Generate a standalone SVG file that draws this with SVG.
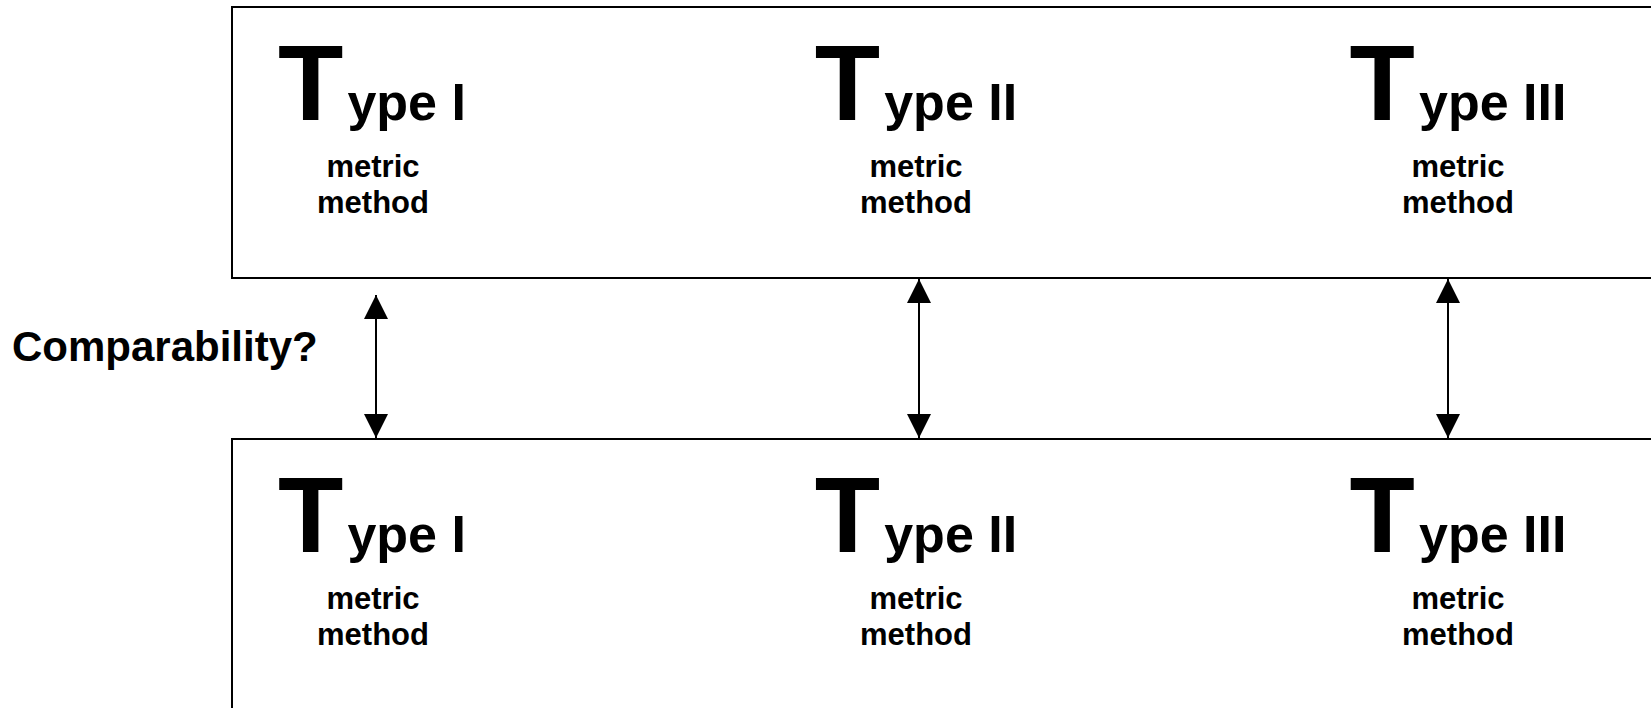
<svg xmlns="http://www.w3.org/2000/svg" width="1651" height="708" viewBox="0 0 1651 708">
<defs>
<style>
.box{fill:#fff;stroke:#000;stroke-width:2}
.t{font-family:"Liberation Sans",Arial,sans-serif;font-weight:bold;fill:#000;text-anchor:middle}
.big{font-size:107px}
.mid{font-size:52px}
.sm{font-size:31px}
.lbl{font-family:"Liberation Sans",Arial,sans-serif;font-weight:bold;font-size:42px;fill:#000}
.conn{stroke:#000;stroke-width:2;fill:none}
</style>
<marker id="ah" markerUnits="userSpaceOnUse" markerWidth="24" markerHeight="24" viewBox="0 0 22 22" refX="22" refY="11" orient="auto-start-reverse">
<path d="M0,0 L22,11 L0,22 Z" fill="#000"/>
</marker>
</defs>
<g id="top-box"><rect class="box" x="232" y="7" width="1440" height="271"/></g>
<g id="bottom-box"><rect class="box" x="232" y="439" width="1440" height="290"/></g>
<g id="top-type1">
<text class="t" x="372" y="120"><tspan class="big">T</tspan><tspan class="mid" dx="4">ype I</tspan></text>
<text class="t sm" x="373" y="177">metric</text>
<text class="t sm" x="373" y="213">method</text>
</g>
<g id="top-type2">
<text class="t" x="916" y="120"><tspan class="big">T</tspan><tspan class="mid" dx="4">ype II</tspan></text>
<text class="t sm" x="916" y="177">metric</text>
<text class="t sm" x="916" y="213">method</text>
</g>
<g id="top-type3">
<text class="t" x="1458" y="120"><tspan class="big">T</tspan><tspan class="mid" dx="4">ype III</tspan></text>
<text class="t sm" x="1458" y="177">metric</text>
<text class="t sm" x="1458" y="213">method</text>
</g>
<g id="bottom-type1">
<text class="t" x="372" y="552"><tspan class="big">T</tspan><tspan class="mid" dx="4">ype I</tspan></text>
<text class="t sm" x="373" y="609">metric</text>
<text class="t sm" x="373" y="645">method</text>
</g>
<g id="bottom-type2">
<text class="t" x="916" y="552"><tspan class="big">T</tspan><tspan class="mid" dx="4">ype II</tspan></text>
<text class="t sm" x="916" y="609">metric</text>
<text class="t sm" x="916" y="645">method</text>
</g>
<g id="bottom-type3">
<text class="t" x="1458" y="552"><tspan class="big">T</tspan><tspan class="mid" dx="4">ype III</tspan></text>
<text class="t sm" x="1458" y="609">metric</text>
<text class="t sm" x="1458" y="645">method</text>
</g>
<g id="label"><text class="lbl" x="12" y="361">Comparability?</text></g>
<g id="connectors">
<line class="conn" x1="376" y1="295" x2="376" y2="438" marker-start="url(#ah)" marker-end="url(#ah)"/>
<line class="conn" x1="919" y1="279" x2="919" y2="438" marker-start="url(#ah)" marker-end="url(#ah)"/>
<line class="conn" x1="1448" y1="279" x2="1448" y2="438" marker-start="url(#ah)" marker-end="url(#ah)"/>
</g>
</svg>
